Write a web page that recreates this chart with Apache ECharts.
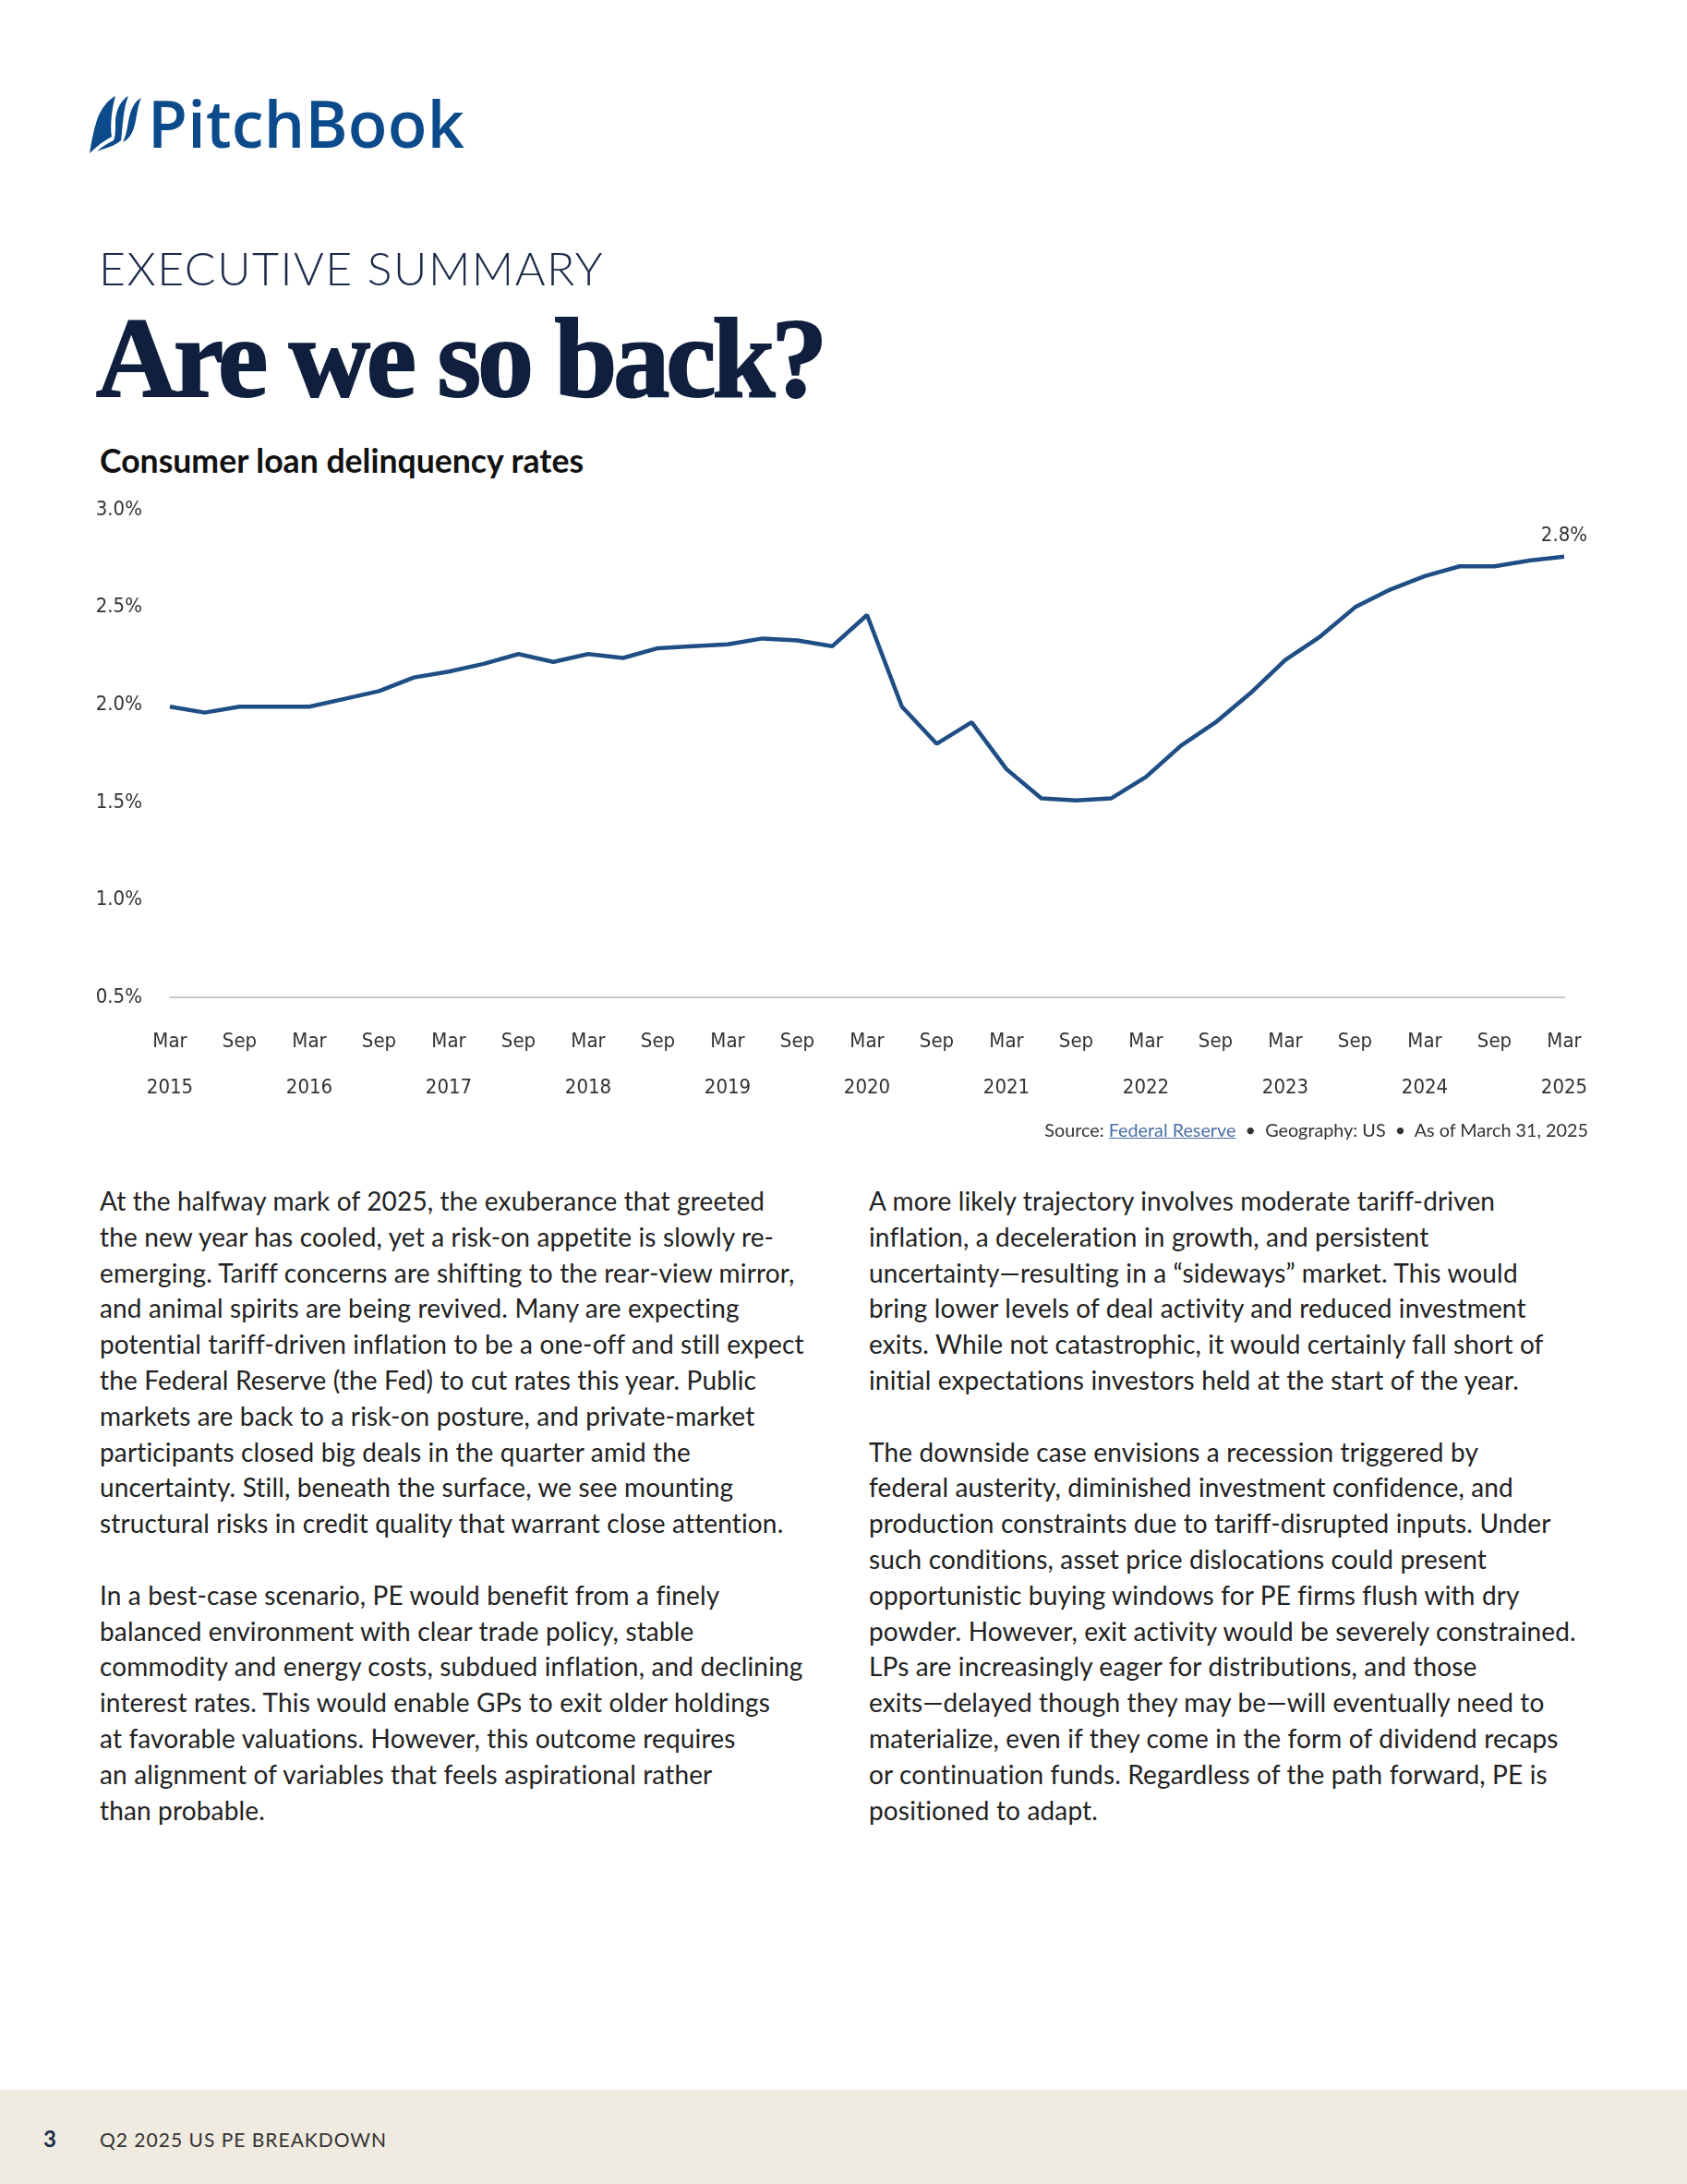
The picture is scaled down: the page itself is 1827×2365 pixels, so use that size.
<!DOCTYPE html>
<html>
<head>
<meta charset="utf-8">
<script src="https://cdn.jsdelivr.net/npm/echarts@6/dist/echarts.min.js"></script>
<style>
  html, body { margin:0; padding:0; width:1827px; height:2365px; background:#ffffff; overflow:hidden; }
  .abs { position:absolute; white-space:nowrap; }
  #logoText { left:160px; top:88px; font-family:"Open Sans", "Noto Sans", sans-serif; font-weight:600; font-size:70px; line-height:90px; color:#0b4a8b; letter-spacing:0.2px; }
  #kicker { left:107px; top:258px; font-family:"Lato", "Open Sans", sans-serif; font-weight:300; font-size:50px; line-height:64px; color:#1b2a4a; letter-spacing:1.5px; }
  #title { left:104px; top:318px; font-family:"Liberation Serif", "DejaVu Serif", serif; font-weight:700; font-size:122px; line-height:140px; color:#0f1f3d; letter-spacing:-4px; -webkit-text-stroke:2px #0f1f3d; }
  #ctitle { left:108px; top:477px; font-family:"Lato", "Open Sans", sans-serif; font-weight:700; font-size:35.6px; line-height:44px; color:#111; }
  #chart { position:absolute; left:0; top:520px; width:1827px; height:700px; }
  #source { right:107px; top:1210px; font-family:"Lato", "Open Sans", sans-serif; font-size:19.8px; line-height:26px; color:#333; }
  #source a { color:#4a6fa5; text-decoration:underline; }
  .col { top:1281px; font-family:"Lato", "Open Sans", sans-serif; font-size:28px; line-height:38.8px; color:#222; letter-spacing:0.15px; }
  #colL { left:108px; }
  #colR { left:941px; }
  #footer { position:absolute; left:0; top:2263px; width:1827px; height:102px; background:#f0ebe0; }
  #pnum { left:47px; top:2302px; font-family:"Lato", sans-serif; font-weight:700; font-size:24px; line-height:28px; color:#1b2a4a; }
  #pname { left:108px; top:2303px; font-family:"Lato", sans-serif; font-size:21px; line-height:28px; color:#333; letter-spacing:1px; }
</style>
</head>
<body>
<svg class="abs" style="left:95px;top:102px" width="62" height="66" viewBox="0 0 62 66">
  <path d="M30 2 C22 6 14 16 10 28 C6 40 4 52 2 64 C10 56 18 50 26 46 C24 34 26 16 30 2 Z" fill="#0b4a8b"/>
  <path d="M44 2 C36 6 30 18 30 30 C30 40 30 46 28 50 C20 54 14 58 10 62 C20 58 30 56 36 50 C38 36 38 16 44 2 Z" fill="#0b4a8b"/>
  <path d="M58 4 C50 8 46 18 44 30 C42 42 40 48 38 52 C46 48 50 40 52 28 C54 18 55 10 58 4 Z" fill="#0b4a8b"/>
</svg>
<div id="logoText" class="abs">PitchBook</div>
<div id="kicker" class="abs">EXECUTIVE SUMMARY</div>
<div id="title" class="abs">Are we so back?</div>
<div id="ctitle" class="abs">Consumer loan delinquency rates</div>
<div id="chart"></div>
<div id="source" class="abs">Source: <a>Federal Reserve</a> &nbsp;•&nbsp; Geography: US &nbsp;•&nbsp; As of March 31, 2025</div>

<div id="colL" class="abs col">At the halfway mark of 2025, the exuberance that greeted<br>the new year has cooled, yet a risk-on appetite is slowly re-<br>emerging. Tariff concerns are shifting to the rear-view mirror,<br>and animal spirits are being revived. Many are expecting<br>potential tariff-driven inflation to be a one-off and still expect<br>the Federal Reserve (the Fed) to cut rates this year. Public<br>markets are back to a risk-on posture, and private-market<br>participants closed big deals in the quarter amid the<br>uncertainty. Still, beneath the surface, we see mounting<br>structural risks in credit quality that warrant close attention.<br><br>In a best-case scenario, PE would benefit from a finely<br>balanced environment with clear trade policy, stable<br>commodity and energy costs, subdued inflation, and declining<br>interest rates. This would enable GPs to exit older holdings<br>at favorable valuations. However, this outcome requires<br>an alignment of variables that feels aspirational rather<br>than probable.</div>

<div id="colR" class="abs col">A more likely trajectory involves moderate tariff-driven<br>inflation, a deceleration in growth, and persistent<br>uncertainty—resulting in a “sideways” market. This would<br>bring lower levels of deal activity and reduced investment<br>exits. While not catastrophic, it would certainly fall short of<br>initial expectations investors held at the start of the year.<br><br>The downside case envisions a recession triggered by<br>federal austerity, diminished investment confidence, and<br>production constraints due to tariff-disrupted inputs. Under<br>such conditions, asset price dislocations could present<br>opportunistic buying windows for PE firms flush with dry<br>powder. However, exit activity would be severely constrained.<br>LPs are increasingly eager for distributions, and those<br>exits—delayed though they may be—will eventually need to<br>materialize, even if they come in the form of dividend recaps<br>or continuation funds. Regardless of the path forward, PE is<br>positioned to adapt.</div>

<div id="footer"></div>
<div id="pnum" class="abs">3</div>
<div id="pname" class="abs">Q2 2025 US PE BREAKDOWN</div>

<script>
// Quarter-end categories
var quarters = [
  'Mar 2015','Jun 2015','Sep 2015','Dec 2015',
  'Mar 2016','Jun 2016','Sep 2016','Dec 2016',
  'Mar 2017','Jun 2017','Sep 2017','Dec 2017',
  'Mar 2018','Jun 2018','Sep 2018','Dec 2018',
  'Mar 2019','Jun 2019','Sep 2019','Dec 2019',
  'Mar 2020','Jun 2020','Sep 2020','Dec 2020',
  'Mar 2021','Jun 2021','Sep 2021','Dec 2021',
  'Mar 2022','Jun 2022','Sep 2022','Dec 2022',
  'Mar 2023','Jun 2023','Sep 2023','Dec 2023',
  'Mar 2024','Jun 2024','Sep 2024','Dec 2024',
  'Mar 2025'
];
// Delinquency rate (%)
var delinquencyRate = [
  1.99, 1.96, 1.99, 1.99,
  1.99, 2.03, 2.07, 2.14,
  2.17, 2.21, 2.26, 2.22,
  2.26, 2.24, 2.29, 2.30,
  2.31, 2.34, 2.33, 2.30,
  2.46, 1.99, 1.80, 1.91,
  1.67, 1.52, 1.51, 1.52,
  1.63, 1.79, 1.91, 2.06,
  2.23, 2.35, 2.50, 2.59,
  2.66, 2.71, 2.71, 2.74,
  2.76
];
var yTicks = [0.5, 1.0, 1.5, 2.0, 2.5, 3.0];

var axisFont = '"Liberation Sans Narrow", "DejaVu Sans Condensed", "Roboto", sans-serif';
var lastIdx = delinquencyRate.length - 1;

var chart = echarts.init(document.getElementById('chart'), null, { renderer: 'canvas' });
chart.setOption({
  animation: false,
  grid: { left: 184, right: 133, top: 32, bottom: 140, containLabel: false },
  xAxis: {
    type: 'category',
    data: quarters,
    boundaryGap: false,
    axisLine: { show: true, lineStyle: { color: '#c9c9c9', width: 2 } },
    axisTick: { show: false },
    axisLabel: {
      interval: 1,
      margin: 23,
      color: '#333',
      fontFamily: axisFont,
      fontSize: 22,
      formatter: function (val) {
        var parts = val.split(' ');
        if (parts[0] === 'Mar') return '{m|Mar}\n{y|' + parts[1] + '}';
        return '{m|' + parts[0] + '}\n{y|\u00a0}';
      },
      rich: {
        m: { fontFamily: axisFont, fontSize: 22, color: '#333', lineHeight: 50 },
        y: { fontFamily: axisFont, fontSize: 22, color: '#333', lineHeight: 50 }
      }
    }
  },
  yAxis: {
    type: 'value',
    min: yTicks[0],
    max: yTicks[yTicks.length - 1],
    interval: 0.5,
    axisLine: { show: false },
    axisTick: { show: false },
    splitLine: { show: false },
    axisLabel: {
      margin: 30,
      color: '#333',
      fontFamily: axisFont,
      fontSize: 22,
      formatter: function (v) { return v.toFixed(1) + '%'; }
    }
  },
  series: [{
    type: 'line',
    data: delinquencyRate,
    symbol: 'circle',
    symbolSize: 0.1,
    showSymbol: true,
    showAllSymbol: true,
    lineStyle: { color: '#1f4e85', width: 4.5 },
    itemStyle: { color: '#1f4e85' },
    label: {
      show: true,
      position: 'top',
      distance: 11,
      fontFamily: axisFont,
      fontSize: 22,
      color: '#333',
      formatter: function (p) {
        return p.dataIndex === lastIdx ? p.value.toFixed(1) + '%' : '';
      }
    }
  }]
});
</script>
</body>
</html>
